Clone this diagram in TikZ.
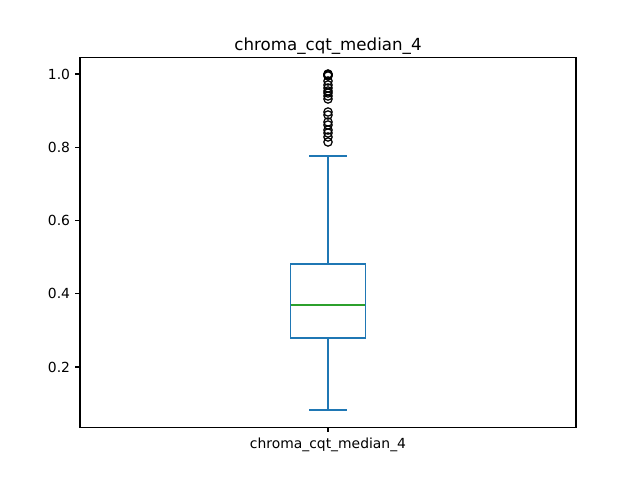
\documentclass[tikz,border=0pt]{standalone}
\usepackage{fontspec}
\setmainfont{DejaVu Sans}
\definecolor{mblue}{HTML}{1F77B4}
\definecolor{mgreen}{HTML}{2CA02C}
\begin{document}
\begin{tikzpicture}[x=0.72pt,y=-0.72pt,
  spine/.style={draw=black,line width=0.8pt},
  tick/.style={draw=black,line width=0.8pt},
  boxline/.style={draw=mblue,line width=1pt},
  medline/.style={draw=mgreen,line width=1pt},
  flier/.style={draw=black,line width=0.9pt,circle,inner sep=0pt,minimum size=6pt},
  ticklab/.style={font=\fontsize{10}{12}\selectfont,inner sep=0pt}]
\useasboundingbox (0,0) rectangle (640,480);
% axes frame
\coordinate (axTL) at (80,57.6);
\coordinate (axBR) at (576,427.2);
\draw[spine] (axTL) rectangle (axBR);
% title
\node[font=\fontsize{12}{14}\selectfont,anchor=base] (title) at (328,50) {chroma\_cqt\_median\_4};
% y ticks
\foreach \v/\lab [count=\k] in {1.0/1.0,0.8/0.8,0.6/0.6,0.4/0.4,0.2/0.2}{
  \pgfmathsetmacro{\yy}{74+(1-\v)*366.25}
  \coordinate (yt\k) at (80,\yy);
  \draw[tick] (yt\k) -- ++(-4.86,0);
  \node[ticklab,anchor=east] (yl\k) at (70.3,\yy) {\lab};
}
% x tick
\coordinate (xt) at (328,427.2);
\draw[tick] (xt) -- ++(0,4.86);
\node[ticklab,anchor=north] (xl) at (328,437.5) {chroma\_cqt\_median\_4};
% box
\coordinate (q3L) at (290.8,264);
\coordinate (q1R) at (365.2,338);
\draw[boxline] (q3L) rectangle (q1R);
\coordinate (medL) at (290.8,305);
\coordinate (medR) at (365.2,305);
\draw[medline] (medL) -- (medR);
% whiskers
\coordinate (boxTop) at (328,264);
\coordinate (boxBot) at (328,338);
\coordinate (whTop) at (328,156);
\coordinate (whBot) at (328,410);
\draw[boxline] (boxTop) -- (whTop);
\draw[boxline] (boxBot) -- (whBot);
\coordinate (capTL) at (309.4,156);
\coordinate (capTR) at (346.6,156);
\coordinate (capBL) at (309.4,410);
\coordinate (capBR) at (346.6,410);
\draw[boxline] (capTL) -- (capTR);
\draw[boxline] (capBL) -- (capBR);
% fliers
\foreach \fy [count=\i] in {74,74.5,75,76,81,85,88,91,93,96,99,112,115,122,125,130,133,137,142}{
  \node[flier] (f\i) at (328,\fy) {};
}
\end{tikzpicture}
\end{document}
